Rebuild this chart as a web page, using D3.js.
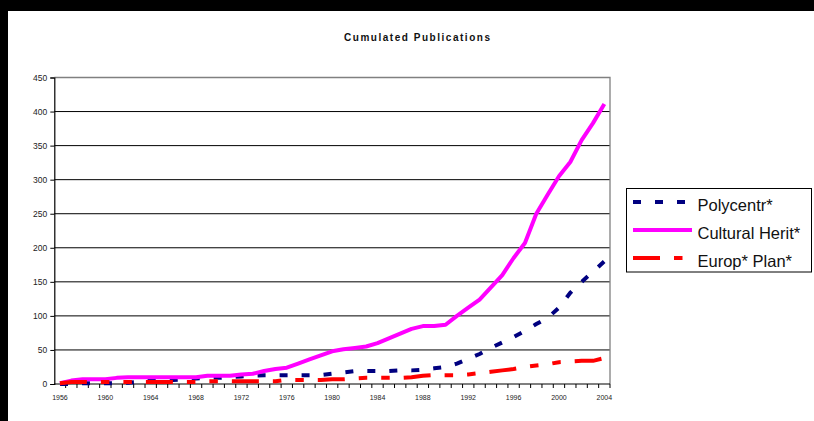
<!DOCTYPE html>
<html>
<head>
<meta charset="utf-8">
<script src="https://cdn.jsdelivr.net/npm/d3@7"></script>
<style>
  html, body { margin: 0; padding: 0; background: #fff; }
  svg text { font-family: "Liberation Sans", Arial, sans-serif; }
</style>
</head>
<body>
<div id="chart"></div>
<script>
// cumulated counts per year
var years = d3.range(1956, 2005);

var polycentr = [0, 0, 1, 1, 1, 1, 2, 3, 6, 6,
                 6, 7, 8, 9, 9, 10, 11, 12, 13, 13,
                 13, 13, 13, 13, 15, 17, 19, 19, 19, 19,
                 20, 20, 21, 23, 25, 30, 37, 44, 53, 61,
                 69, 78, 88, 97, 112, 134, 150, 165, 180];

var culturalHerit = [1, 5, 7, 7, 7, 9, 10, 10, 10, 10,
                     10, 10, 10, 12, 12, 12, 14, 15, 19, 22,
                     24, 30, 36, 42, 48, 51, 53, 55, 60, 67,
                     74, 81, 85, 85, 87, 100, 112, 124, 142, 160,
                     185, 207, 250, 278, 305, 326, 358, 383, 411];

var europPlan = [1, 3, 3, 3, 3, 3, 3, 3, 3, 3,
                 3, 3, 3, 4, 4, 4, 4, 4, 4, 4,
                 6, 6, 6, 6, 7, 7, 8, 9, 9, 9,
                 9, 10, 12, 13, 13, 13, 14, 16, 18, 20,
                 22, 25, 27, 29, 32, 33, 34, 34, 38];

var seriesNames = ["Polycentr*", "Cultural Herit*", "Europ* Plan*"];
var yTicks = d3.range(0, 451, 50);
var xLabelYears = d3.range(1956, 2005, 4);

var styles = [
  {color: "#000080", dash: "8,14"},
  {color: "#FF00FF", dash: null},
  {color: "#FF0000", dash: "27,14,8.5,14,8.5,14"}
];
var seriesValues = [polycentr, culturalHerit, europPlan];

var W = 814, H = 421;
var plotLeft = 54.3, plotRight = 610, plotTop = 77.5, plotBottom = 384;

var svg = d3.select("#chart").append("svg")
    .attr("width", W)
    .attr("height", H);

// black frame bits at top and left
svg.append("rect").attr("x", 0).attr("y", 0).attr("width", W).attr("height", 11).attr("fill", "#000");
svg.append("rect").attr("x", 0).attr("y", 0).attr("width", 8).attr("height", H).attr("fill", "#000");

var x = d3.scaleBand()
    .domain(years)
    .range([plotLeft, plotRight]);

var y = d3.scaleLinear()
    .domain([0, 450])
    .range([plotBottom, plotTop]);

function cx(yr) { return x(yr) + x.bandwidth() / 2; }

// gridlines
svg.selectAll("line.grid")
    .data(yTicks.filter(function(d) { return d > 0 && d < 450; }))
    .enter()
    .append("line")
    .classed("grid", true)
    .attr("x1", plotLeft).attr("x2", plotRight)
    .attr("y1", function(d) { return y(d); })
    .attr("y2", function(d) { return y(d); })
    .attr("stroke", "#000")
    .attr("stroke-width", 1);

// plot border (top + right in gray)
svg.append("path")
    .attr("d", "M" + plotLeft + "," + y(450) + "H" + plotRight + "V" + plotBottom)
    .attr("fill", "none")
    .attr("stroke", "#808080")
    .attr("stroke-width", 1.3);

// y axis
var yAxis = d3.axisLeft(y)
    .tickValues(yTicks)
    .tickSize(4)
    .tickPadding(3);
var gy = svg.append("g")
    .attr("transform", "translate(" + plotLeft + ",0)")
    .call(yAxis);
gy.select(".domain").attr("stroke", "#000").attr("stroke-width", 1.2);
gy.selectAll(".tick line").attr("stroke", "#000");
gy.selectAll(".tick text")
    .attr("font-size", "8.5px")
    .attr("fill", "#222")
    .style("font-family", "'Liberation Sans', Arial, sans-serif");

// x axis: ticks between categories, labels every 4 years
var gx = svg.append("g")
    .attr("transform", "translate(0," + plotBottom + ")");
gx.append("line")
    .attr("x1", plotLeft).attr("x2", plotRight)
    .attr("stroke", "#000").attr("stroke-width", 1.2);
gx.selectAll("line.tk")
    .data(years)
    .enter()
    .append("line")
    .classed("tk", true)
    .attr("x1", function(d) { return x(d) + x.bandwidth(); })
    .attr("x2", function(d) { return x(d) + x.bandwidth(); })
    .attr("y1", 0).attr("y2", 4)
    .attr("stroke", "#000");
gx.selectAll("text")
    .data(xLabelYears)
    .enter()
    .append("text")
    .attr("x", function(d) { return cx(d); })
    .attr("y", 16)
    .attr("text-anchor", "middle")
    .attr("font-size", "7px")
    .attr("fill", "#222")
    .text(function(d) { return d; });

// series lines
var line = d3.line()
    .x(function(d, i) { return cx(years[i]); })
    .y(function(d) { return y(d); });

svg.selectAll("path.series")
    .data(seriesValues)
    .enter()
    .append("path")
    .classed("series", true)
    .attr("d", function(d) { return line(d); })
    .attr("fill", "none")
    .attr("stroke", function(d, i) { return styles[i].color; })
    .attr("stroke-width", 4)
    .attr("stroke-linejoin", "round")
    .attr("stroke-dasharray", function(d, i) { return styles[i].dash; });

// title
svg.append("text")
    .attr("x", 417)
    .attr("y", 41.3)
    .attr("text-anchor", "middle")
    .attr("font-size", "10px")
    .attr("font-weight", "bold")
    .attr("fill", "#111")
    .attr("textLength", 146)
    .attr("lengthAdjust", "spacing")
    .text("Cumulated Publications");

// legend
var legend = svg.append("g");
legend.append("rect")
    .attr("x", 626.5).attr("y", 188.5)
    .attr("width", 185).attr("height", 83.5)
    .attr("fill", "#fff")
    .attr("stroke", "#000");

var item = legend.selectAll("g.item")
    .data(seriesNames)
    .enter()
    .append("g")
    .classed("item", true)
    .attr("transform", function(d, i) { return "translate(0," + (202 + i * 28) + ")"; });

item.append("line")
    .attr("x1", 633).attr("x2", 692)
    .attr("stroke", function(d, i) { return styles[i].color; })
    .attr("stroke-width", 4)
    .attr("stroke-dasharray", function(d, i) { return styles[i].dash; });

item.append("text")
    .attr("x", 697.5)
    .attr("y", 8.5)
    .attr("font-size", "16.5px")
    .attr("fill", "#111")
    .text(function(d) { return d; });
</script>
</body>
</html>
